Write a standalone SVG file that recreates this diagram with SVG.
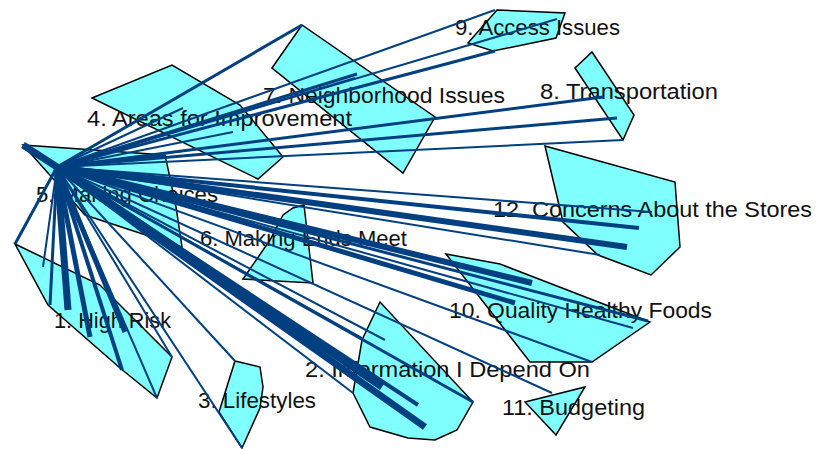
<svg xmlns="http://www.w3.org/2000/svg" width="816" height="449" viewBox="0 0 816 449">
  <style>
    .cl { fill: #80ffff; stroke: #000; stroke-width: 1.5; stroke-linejoin: miter; }
    .lb { font-family: "Liberation Sans", Arial, sans-serif; font-size: 22px; fill: #111; }
    #links line { stroke: #004080; stroke-linecap: butt; }
  </style>
  <rect width="816" height="449" fill="#fff"/>

  <!-- clusters -->
  <g id="c9">
    <polygon class="cl" points="468,43 497,10 565,13 556,38 493,51"/>
    <text class="lb" x="455" y="35" textLength="165" lengthAdjust="spacingAndGlyphs">9. Access Issues</text>
  </g>
  <g id="c7">
    <polygon class="cl" points="272,68 302,25 435,117 403,173"/>
    <text class="lb" x="263" y="103" textLength="242" lengthAdjust="spacingAndGlyphs">7. Neighborhood Issues</text>
  </g>
  <g id="c8">
    <polygon class="cl" points="575,68 592,52 634,115 623,140"/>
    <text class="lb" x="540" y="99" textLength="178" lengthAdjust="spacingAndGlyphs">8. Transportation</text>
  </g>
  <g id="c4">
    <polygon class="cl" points="92,98 172,65 240,105 283,157 258,179"/>
    <text class="lb" x="87" y="126" textLength="265" lengthAdjust="spacingAndGlyphs">4. Areas for Improvement</text>
  </g>
  <g id="c12">
    <polygon class="cl" points="545,146 675,182 680,247 651,275 598,255 563,222"/>
    <text class="lb" x="493" y="217" textLength="319" lengthAdjust="spacingAndGlyphs">12. Concerns About the Stores</text>
  </g>
  <g id="c5">
    <polygon class="cl" points="23,145 165,155 170,178 176,207 182,247 85,215 48,173"/>
    <text class="lb" x="36" y="202" textLength="182" lengthAdjust="spacingAndGlyphs">5. Making Choices</text>
  </g>
  <g id="c6">
    <polygon class="cl" points="243,279 270,240 283,215 293,208 304,205 313,283"/>
    <text class="lb" x="200" y="246" textLength="207" lengthAdjust="spacingAndGlyphs">6. Making Ends Meet</text>
  </g>
  <g id="c10">
    <polygon class="cl" points="446,254 500,264 650,322 592,362 530,362"/>
    <text class="lb" x="449" y="318" textLength="263" lengthAdjust="spacingAndGlyphs">10. Quality Healthy Foods</text>
  </g>
  <g id="c1">
    <polygon class="cl" points="15,244 100,285 172,357 157,398 120,368 48,305"/>
    <text class="lb" x="54" y="328" textLength="117" lengthAdjust="spacingAndGlyphs">1. High Risk</text>
  </g>
  <g id="c2">
    <polygon class="cl" points="380,302 362,340 353,393 370,427 408,438 435,440 457,430 473,402"/>
    <text class="lb" x="305" y="377" textLength="285" lengthAdjust="spacingAndGlyphs">2. Information I Depend On</text>
  </g>
  <g id="c3">
    <polygon class="cl" points="235,361 260,367 263,387 260,408 242,448 219,412"/>
    <text class="lb" x="198" y="408" textLength="118" lengthAdjust="spacingAndGlyphs">3. Lifestyles</text>
  </g>
  <g id="c11">
    <polygon class="cl" points="525,402 585,387 556,435"/>
    <text class="lb" x="502" y="415" textLength="143" lengthAdjust="spacingAndGlyphs">11. Budgeting</text>
  </g>

  <!-- links from the shared anchor point -->
  <g id="links">
    <line x1="57" y1="167" x2="23" y2="145" stroke-width="7"/>
    <line x1="57" y1="167" x2="302" y2="25" stroke-width="3"/>
    <line x1="57" y1="167" x2="495" y2="10" stroke-width="2"/>
    <line x1="57" y1="167" x2="557" y2="19" stroke-width="2"/>
    <line x1="57" y1="167" x2="495" y2="51" stroke-width="3"/>
    <line x1="57" y1="167" x2="357" y2="74" stroke-width="3"/>
    <line x1="57" y1="167" x2="355" y2="78" stroke-width="2"/>
    <line x1="57" y1="167" x2="183" y2="108" stroke-width="2"/>
    <line x1="57" y1="167" x2="233" y2="132" stroke-width="2"/>
    <line x1="57" y1="167" x2="603" y2="97" stroke-width="3"/>
    <line x1="57" y1="167" x2="617" y2="118" stroke-width="3"/>
    <line x1="57" y1="167" x2="623" y2="140" stroke-width="2"/>
    <line x1="57" y1="167" x2="165" y2="155" stroke-width="3"/>
    <line x1="57" y1="167" x2="652" y2="212" stroke-width="2"/>
    <line x1="57" y1="167" x2="639" y2="228" stroke-width="4"/>
    <line x1="57" y1="167" x2="627" y2="247" stroke-width="6"/>
    <line x1="57" y1="167" x2="600" y2="255" stroke-width="2"/>
    <line x1="57" y1="167" x2="532" y2="283" stroke-width="6"/>
    <line x1="57" y1="167" x2="515" y2="303" stroke-width="5"/>
    <line x1="57" y1="167" x2="648" y2="321" stroke-width="3"/>
    <line x1="57" y1="167" x2="633" y2="328" stroke-width="2"/>
    <line x1="57" y1="167" x2="592" y2="362" stroke-width="2"/>
    <line x1="57" y1="167" x2="552" y2="393" stroke-width="2"/>
    <line x1="57" y1="167" x2="473" y2="402" stroke-width="3"/>
    <line x1="57" y1="167" x2="425" y2="427" stroke-width="7"/>
    <line x1="57" y1="167" x2="418" y2="405" stroke-width="4"/>
    <line x1="57" y1="167" x2="382" y2="387" stroke-width="7"/>
    <line x1="57" y1="167" x2="385" y2="340" stroke-width="2"/>
    <line x1="57" y1="167" x2="362" y2="338" stroke-width="2"/>
    <line x1="57" y1="167" x2="353" y2="393" stroke-width="2"/>
    <line x1="57" y1="167" x2="235" y2="361" stroke-width="2"/>
    <line x1="57" y1="167" x2="242" y2="448" stroke-width="2"/>
    <line x1="57" y1="167" x2="172" y2="357" stroke-width="2"/>
    <line x1="57" y1="167" x2="157" y2="398" stroke-width="2"/>
    <line x1="57" y1="167" x2="122" y2="370" stroke-width="4"/>
    <line x1="57" y1="167" x2="125" y2="332" stroke-width="5"/>
    <line x1="57" y1="167" x2="90" y2="337" stroke-width="5"/>
    <line x1="57" y1="167" x2="68" y2="310" stroke-width="7"/>
    <line x1="57" y1="167" x2="50" y2="305" stroke-width="3"/>
    <line x1="57" y1="167" x2="43" y2="267" stroke-width="2"/>
    <line x1="57" y1="167" x2="15" y2="244" stroke-width="3"/>
  </g>
</svg>
